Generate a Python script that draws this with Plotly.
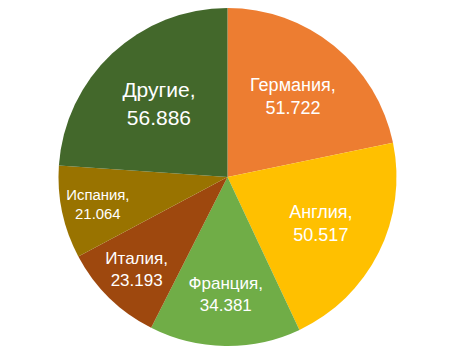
import plotly.graph_objects as go

countries = ["Германия", "Англия", "Франция", "Италия", "Испания", "Другие"]
values = [51.722, 50.517, 34.381, 23.193, 21.064, 56.886]
value_labels = ["51.722", "50.517", "34.381", "23.193", "21.064", "56.886"]
colors = ["#ED7D31", "#FFC000", "#70AD47", "#9E480E", "#997300", "#43682B"]
font_sizes = [18, 18, 17, 17, 17, 21]

W, H = 460, 362
off = 8  # page body margin
cx, cy, r = 227.5 - off, 177 - off, 169

fig = go.Figure(go.Pie(
    labels=countries,
    values=values,
    text=value_labels,
    texttemplate="%{label},<br>%{text}",
    textposition="inside",
    insidetextorientation="horizontal",
    textfont=dict(family="Liberation Sans, Arial, sans-serif", size=font_sizes, color="white"),
    marker=dict(colors=colors, line=dict(width=0)),
    sort=False,
    direction="clockwise",
    rotation=0,
    showlegend=False,
    hoverinfo="label+value",
    domain=dict(x=[(cx - r) / W, (cx + r) / W], y=[1 - (cy + r) / H, 1 - (cy - r) / H]),
))

fig.update_layout(
    width=W, height=H,
    margin=dict(l=0, r=0, t=0, b=0),
    paper_bgcolor="white",
    plot_bgcolor="white",
)

fig.write_html("out.html")
